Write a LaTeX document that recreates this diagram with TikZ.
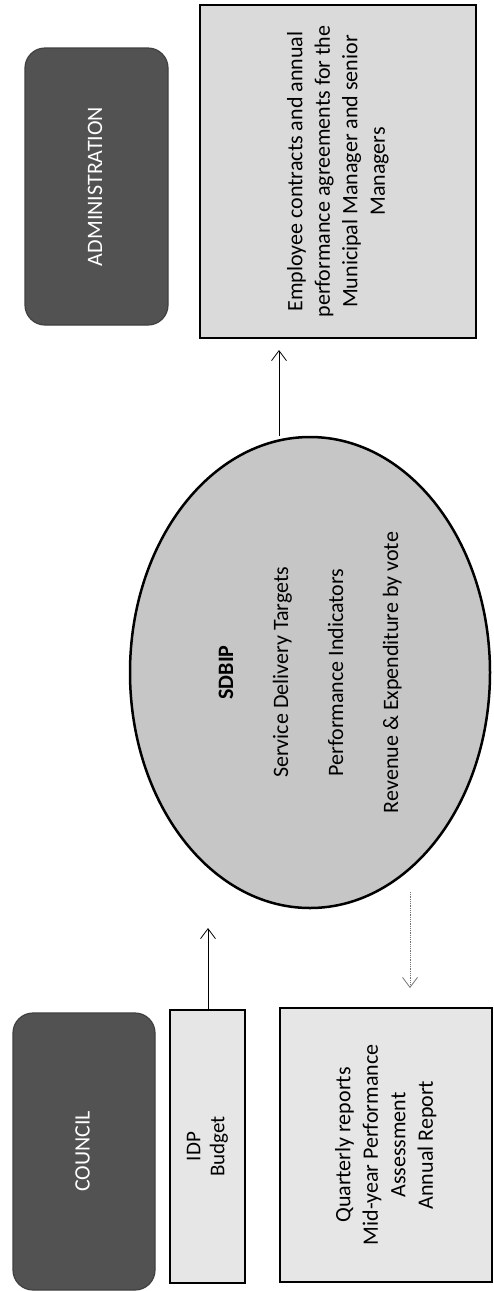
\documentclass[tikz,border=0pt]{standalone}
\usepackage{fontspec}
\setmainfont{Carlito}
\usepackage{graphicx}
\usetikzlibrary{arrows.meta,shapes.geometric}
\definecolor{darkfill}{HTML}{525252}
\definecolor{boxfill}{HTML}{DADADA}
\definecolor{ellfill}{HTML}{C6C6C6}
\definecolor{palefill}{HTML}{E6E6E6}
\newcommand{\vtext}[1]{\rotatebox{90}{\fontsize{22}{27.5}\selectfont\begin{tabular}{@{}c@{}}#1\end{tabular}}}
\begin{document}
\begin{tikzpicture}[x=1pt,y=-1pt,
  darkbox/.style={draw=black!75, fill=darkfill, line width=1.2pt, rounded corners=20pt, text=white, inner sep=0pt},
  lightbox/.style={draw=black, fill=boxfill, line width=2pt, inner sep=0pt},
  palebox/.style={draw=black, fill=palefill, line width=1.6pt, inner sep=0pt},
  oval/.style={ellipse, draw=black, fill=ellfill, line width=2.5pt, inner sep=0pt},
  conn/.style={line width=0.8pt, -{Straight Barb[length=10pt,width=15pt,line width=0.8pt]}},
  fconn/.style={conn, draw=black!55, densely dotted}]
\useasboundingbox (0,0) rectangle (494,1291);
\fill[white] (0,0) rectangle (494,1291);
% boxes
\node[darkbox, minimum width=143pt, minimum height=277pt] (admin) at (96.5,186.5) {\vtext{ADMINISTRATION}};
\node[lightbox, minimum width=276pt, minimum height=333pt] (emp) at (338,171.5)
  {\vtext{Employee contracts and annual\\performance agreements for the\\Municipal Manager and senior\\Managers}};
\node[oval, minimum width=360pt, minimum height=471pt] (sdbip) at (310,672.5)
  {\vtext{\textbf{SDBIP}\\ \\Service Delivery Targets\\ \\Performance Indicators\\ \\Revenue \& Expenditure by vote}};
\node[darkbox, minimum width=142pt, minimum height=277pt] (council) at (84,1151.5) {\vtext{COUNCIL}};
\node[palebox, minimum width=75pt, minimum height=273pt] (idp) at (207.5,1146.5)
  {\rotatebox{90}{\fontsize{21}{24}\selectfont\begin{tabular}{@{}c@{}}IDP\\Budget\end{tabular}}};
\node[palebox, minimum width=212pt, minimum height=274pt] (reports) at (386,1145)
  {\vtext{Quarterly reports\\Mid-year Performance\\Assessment\\Annual Report}};
% connector ends
\coordinate (tipA) at (208,928);
\coordinate (tipB) at (279,350);
\coordinate (startC) at (410,892);
\coordinate (tipC) at (410,988);
\draw[conn] (idp.north -| tipA) -- (tipA);
\draw[conn] (sdbip.north -| tipB) -- (tipB);
\draw[fconn] (startC) -- (tipC);
\end{tikzpicture}
\end{document}
